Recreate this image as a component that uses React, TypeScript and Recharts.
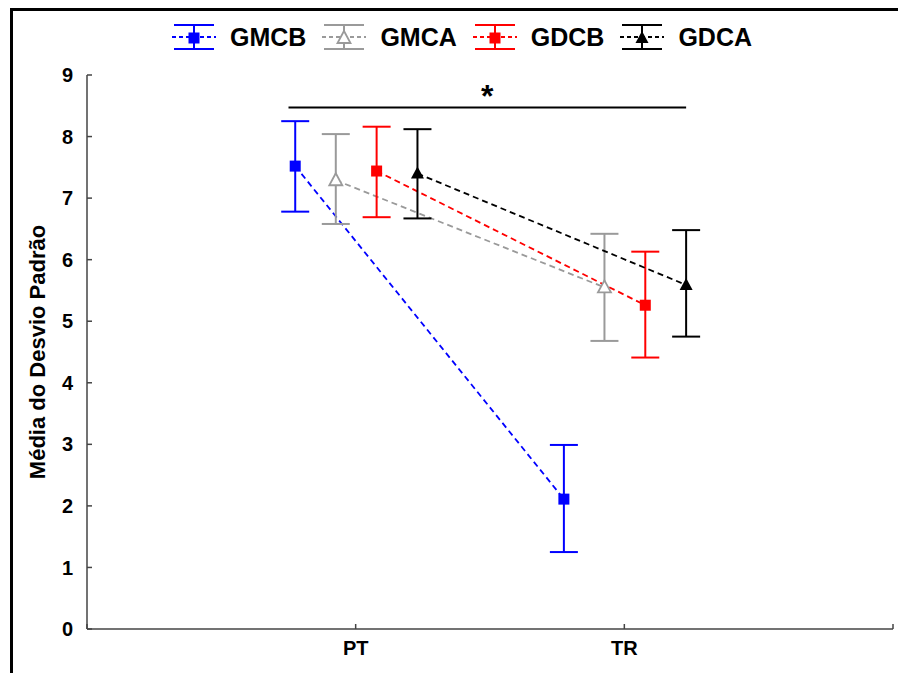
import { ComposedChart, ErrorBar, Line, ReferenceLine, XAxis, YAxis } from "recharts";

const categories = ["PT", "TR"];
const seriesNames = ["GMCB", "GMCA", "GDCB", "GDCA"];

const gmcbMean = [7.52, 2.11];
const gmcbLow = [6.78, 1.25];
const gmcbHigh = [8.25, 2.99];

const gmcaMean = [7.29, 5.55];
const gmcaLow = [6.58, 4.68];
const gmcaHigh = [8.04, 6.42];

const gdcbMean = [7.44, 5.26];
const gdcbLow = [6.69, 4.41];
const gdcbHigh = [8.16, 6.13];

const gdcaMean = [7.4, 5.59];
const gdcaLow = [6.67, 4.75];
const gdcaHigh = [8.12, 6.48];

const yTicks = [0, 1, 2, 3, 4, 5, 6, 7, 8, 9];

// significance bracket between the groups, in data units
const sigFrom = 0.75;
const sigTo = 2.23;
const sigLevel = 8.47;
const sigText = "*";

const FONT = "Arial, 'Liberation Sans', sans-serif";

type Marker = "square" | "triangleOpen" | "triangle";

const seriesStyle: { color: string; marker: Marker; offset: number }[] = [
  { color: "#0000FF", marker: "square", offset: -0.225 },
  { color: "#9A9A9A", marker: "triangleOpen", offset: -0.074 },
  { color: "#FF0000", marker: "square", offset: 0.078 },
  { color: "#000000", marker: "triangle", offset: 0.23 },
];

const means = [gmcbMean, gmcaMean, gdcbMean, gdcaMean];
const lows = [gmcbLow, gmcaLow, gdcbLow, gdcaLow];
const highs = [gmcbHigh, gmcaHigh, gdcbHigh, gdcaHigh];

const seriesData = means.map((m, s) =>
  categories.map((_, i) => ({
    x: i + 1 + seriesStyle[s].offset,
    y: m[i],
    err: [m[i] - lows[s][i], highs[s][i] - m[i]],
  }))
);

function markerShape(kind: Marker, color: string, cx: number, cy: number, k?: string) {
  if (kind === "square") {
    return <rect key={k} x={cx - 5.5} y={cy - 5.5} width={11} height={11} fill={color} />;
  }
  const pts = `${cx},${cy - 7} ${cx - 6.5},${cy + 5} ${cx + 6.5},${cy + 5}`;
  if (kind === "triangleOpen") {
    return <polygon key={k} points={pts} fill="#fff" stroke={color} strokeWidth={1.8} />;
  }
  return <polygon key={k} points={pts} fill={color} />;
}

function LegendIcon({ color, marker }: { color: string; marker: Marker }) {
  return (
    <svg width={44} height={28} style={{ display: "block" }}>
      <line x1={2} y1={2} x2={42} y2={2} stroke={color} strokeWidth={2} />
      <line x1={2} y1={26} x2={42} y2={26} stroke={color} strokeWidth={2} />
      <line x1={22} y1={2} x2={22} y2={26} stroke={color} strokeWidth={2} />
      <line x1={0} y1={14} x2={44} y2={14} stroke={color} strokeWidth={1.8} strokeDasharray="4 3" />
      {markerShape(marker, color, 22, 15)}
    </svg>
  );
}

export default function App() {
  return (
    <div style={{ position: "relative", width: 898, height: 673, background: "#fff", fontFamily: FONT }}>
      <style>{`body{margin:0}`}</style>
      <div style={{ position: "absolute", left: 10, top: 8, width: 888, height: 3, background: "#000" }} />
      <div style={{ position: "absolute", left: 10, top: 8, width: 3, height: 665, background: "#000" }} />
      <div
        style={{
          position: "absolute",
          left: 172,
          top: 23,
          display: "flex",
          alignItems: "center",
          gap: 16,
          zIndex: 2,
        }}
      >
        {seriesNames.map((name, i) => (
          <div key={name} style={{ display: "flex", alignItems: "center", gap: 14 }}>
            <LegendIcon color={seriesStyle[i].color} marker={seriesStyle[i].marker} />
            <span style={{ fontSize: 25, fontWeight: 700, color: "#000", lineHeight: "28px" }}>{name}</span>
          </div>
        ))}
      </div>
      <ComposedChart
        width={898}
        height={673}
        margin={{ top: 75, right: 5, bottom: 0, left: 0 }}
        style={{ fontFamily: FONT }}
      >
        <XAxis
          type="number"
          dataKey="x"
          domain={[0, 3]}
          ticks={[0, 1, 2, 3]}
          tickFormatter={(v: number) => (v === 1 || v === 2 ? categories[v - 1] : "")}
          height={44}
          tickSize={-5}
          tickMargin={17}
          stroke="#444"
          strokeWidth={1.5}
          tick={{ fill: "#000", fontSize: 20, fontWeight: 700 }}
          allowDataOverflow
        />
        <YAxis
          type="number"
          domain={[0, 9]}
          ticks={yTicks}
          width={87}
          tickSize={-5}
          tickMargin={19}
          stroke="#444"
          strokeWidth={1.5}
          tick={{ fill: "#000", fontSize: 20, fontWeight: 700 }}
          label={{
            value: "Média do Desvio Padrão",
            angle: -90,
            position: "center",
            dx: -6,
            style: { fontSize: 22, fontWeight: 700, fill: "#000", fontFamily: FONT },
          }}
        />
        <ReferenceLine
          segment={[
            { x: sigFrom, y: sigLevel },
            { x: sigTo, y: sigLevel },
          ]}
          stroke="#000"
          strokeWidth={2}
          label={{ value: sigText, position: "top", offset: 1, fontSize: 32, fontWeight: 700, fill: "#000" }}
        />
        {seriesData.map((data, s) => {
          const st = seriesStyle[s];
          return (
            <Line
              key={seriesNames[s]}
              data={data}
              dataKey="y"
              name={seriesNames[s]}
              type="linear"
              stroke={st.color}
              strokeWidth={1.8}
              strokeDasharray="6 4"
              isAnimationActive={false}
              activeDot={false}
              dot={(p: any) => markerShape(st.marker, st.color, p.cx, p.cy, `${seriesNames[s]}-${p.index}`)}
            >
              <ErrorBar
                dataKey="err"
                direction="y"
                width={14}
                stroke={st.color}
                strokeWidth={2}
                isAnimationActive={false}
              />
            </Line>
          );
        })}
      </ComposedChart>
    </div>
  );
}
